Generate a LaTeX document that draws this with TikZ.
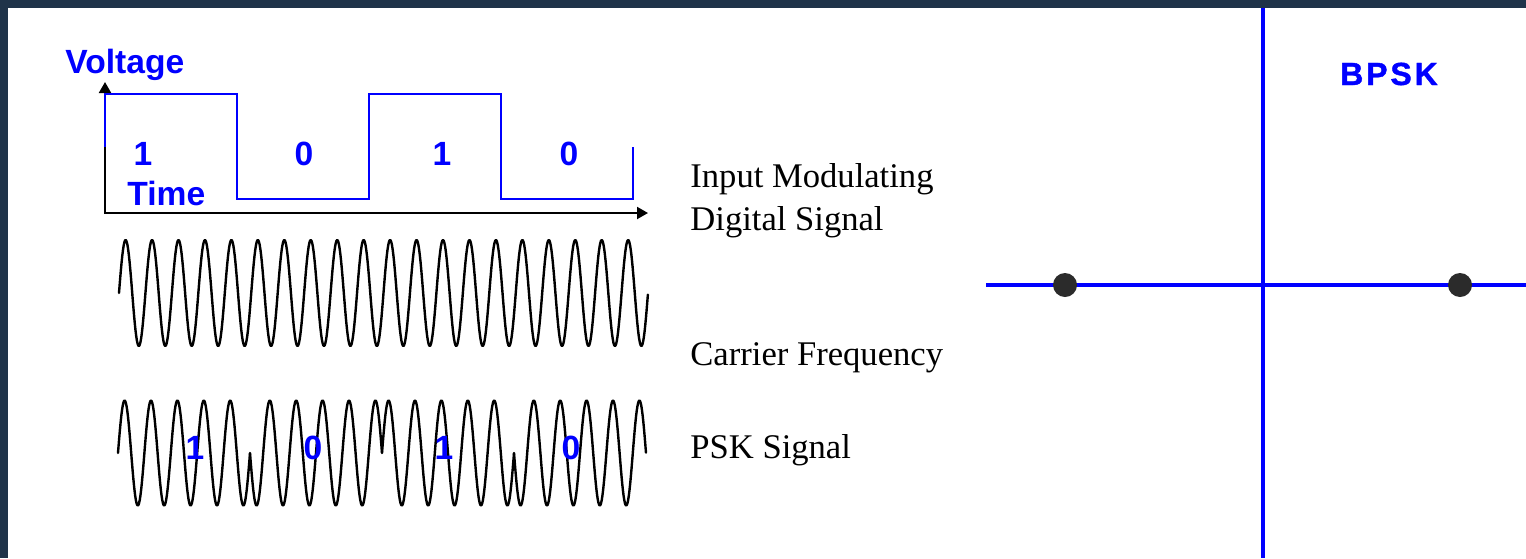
\documentclass[tikz,border=0pt]{standalone}
\usepackage{fontspec}
\setmainfont{Liberation Serif}
\newfontfamily\arialfont{Liberation Sans}
\newfontfamily\bpskfont{Liberation Sans Bold}[LetterSpace=9, FakeBold=1.2]
\usetikzlibrary{arrows.meta}
\definecolor{navy}{RGB}{31,51,73}
\definecolor{dotgray}{RGB}{43,43,43}
\begin{document}
\begin{tikzpicture}[x=0.5pt,y=-0.5pt,
  sanslab/.style={text=blue, font=\arialfont\bfseries\fontsize{16.8}{19}\selectfont, inner sep=0pt},
  serlab/.style={font=\fontsize{17.3}{21}\selectfont, inner sep=0pt, anchor=base west},
  wave/.style={line width=1.2pt, line join=round, line cap=round},
  sqwave/.style={blue, line width=1pt, line join=miter},
  axisline/.style={line width=1pt, {Triangle[length=5.5pt,width=6pt]}-{Triangle[length=5.5pt,width=6pt]}},
  constline/.style={blue, line width=2pt},
  symbol/.style={circle, fill=dotgray, minimum size=12pt, inner sep=0pt}]
\useasboundingbox (0,0) rectangle (1526,558);
\fill[navy] (0,0) rectangle (1526,558);
\fill[white] (8,7.5) rectangle (1526,558);

% axes
\coordinate (O) at (105,213);
\coordinate (ytip) at (105,82);
\coordinate (xtip) at (648,213);
\draw[axisline] (ytip) -- (O) -- (xtip);

% square wave
\draw[sqwave] (105,147) -- (105,94) -- (237,94) -- (237,199) -- (369,199) -- (369,94) -- (501,94) -- (501,199) -- (633,199) -- (633,147);

% labels of the digital signal
\node[sanslab, anchor=base west] (volt) at (65,73) {Voltage};
\node[sanslab, anchor=base west] (time) at (127,205) {Time};
\node[sanslab, anchor=base] (d1) at (143,165) {1};
\node[sanslab, anchor=base] (d2) at (304,165) {0};
\node[sanslab, anchor=base] (d3) at (442,165) {1};
\node[sanslab, anchor=base] (d4) at (569,165) {0};

% carrier
\draw[wave] plot[domain=0:20, samples=801] ({119+\x*26.45},{293-53*sin(360*\x)});

% PSK signal
\foreach \a/\e/\s in {0/5/1, 5/10/-1, 10/15/1, 15/20/-1}
  \draw[wave] plot[domain=\a:\e, samples=201] ({118+\x*26.4},{453-52.5*\s*sin(360*\x)});

\node[sanslab, anchor=base] (p1) at (195,459) {1};
\node[sanslab, anchor=base] (p2) at (313,459) {0};
\node[sanslab, anchor=base] (p3) at (444,459) {1};
\node[sanslab, anchor=base] (p4) at (571,459) {0};

% right-hand captions
\node[serlab] (in1) at (690,187) {Input Modulating};
\node[serlab] (in2) at (690,230) {Digital Signal};
\node[serlab] (car) at (690,365) {Carrier Frequency};
\node[serlab] (psk) at (690,458) {PSK Signal};

% constellation
\coordinate (hl) at (986,285);
\coordinate (hr) at (1526,285);
\coordinate (vt) at (1263,7.5);
\coordinate (vb) at (1263,558);
\draw[constline] (hl) -- (hr);
\draw[constline] (vt) -- (vb);
\node[symbol] (s0) at (1065,285) {};
\node[symbol] (s1) at (1460,285) {};
\node[anchor=base, text=blue, inner sep=0pt, font=\bpskfont\fontsize{16}{18}\selectfont] (bpsk) at (1389,85) {BPSK};
\end{tikzpicture}
\end{document}
